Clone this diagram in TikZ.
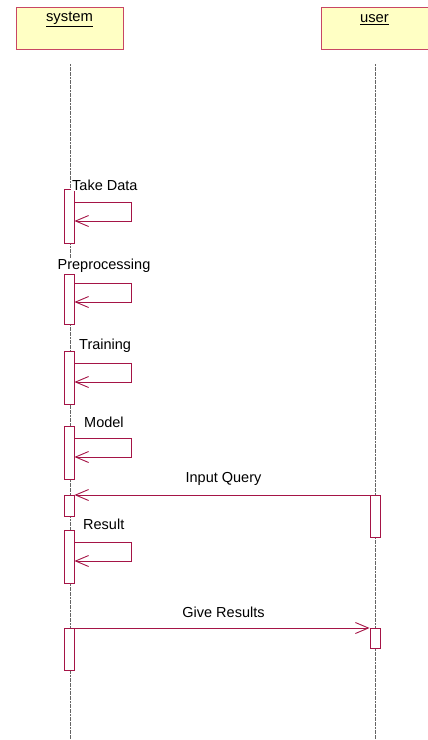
\documentclass[tikz,border=0pt]{standalone}
\usepackage{fontspec}
\setmainfont{Liberation Sans}
\usetikzlibrary{arrows.meta}
\definecolor{boxfill}{RGB}{255,255,196}
\definecolor{boxline}{RGB}{200,70,100}
\definecolor{msgcol}{RGB}{165,20,70}
\definecolor{lifecol}{RGB}{100,100,100}
\begin{document}
\begin{tikzpicture}[x=1pt,y=-1pt,
  objbox/.style={draw=boxline,fill=boxfill,line width=0.9pt,minimum width=107pt,minimum height=42pt,inner sep=0pt},
  objtext/.style={font=\fontsize{14.8}{17}\selectfont,inner sep=0pt},
  lifeline/.style={draw=lifecol,line width=0.75pt,dash pattern=on 2pt off 0.6pt},
  act/.style={draw=msgcol,fill=white,line width=0.9pt,minimum width=10pt,inner sep=0pt,anchor=north},
  msg/.style={draw=msgcol,line width=0.9pt,-{Straight Barb[length=13pt,width=11pt,line width=0.9pt]}},
  lbl/.style={font=\fontsize{14.5}{17}\selectfont,inner sep=1pt,fill=white}]
\useasboundingbox (0,0) rectangle (428,740);
% objects
\node[objbox] (sys) at (69.5,28) {};
\node[objbox] (usr) at (374.5,28) {};
\node[objtext] (systxt) at (69.5,19.5) {\underline{system}};
\node[objtext] (usrtxt) at (374.5,19.5) {\underline{user}};
% lifelines
\coordinate (sysTop) at (70,64);
\coordinate (sysBot) at (70,740);
\coordinate (usrTop) at (375,64);
\coordinate (usrBot) at (375,740);
\draw[lifeline] (sysTop) -- (sysBot);
\draw[lifeline] (usrTop) -- (usrBot);
% activation bars on system
\node[act,minimum height=54pt] (a1) at (69,189) {};
\node[act,minimum height=50pt] (a2) at (69,274) {};
\node[act,minimum height=53pt] (a3) at (69,351) {};
\node[act,minimum height=53pt] (a4) at (69,426) {};
\node[act,minimum height=21pt] (a5) at (69,495) {};
\node[act,minimum height=53pt] (a6) at (69,530) {};
\node[act,minimum height=42pt] (a7) at (69,628) {};
% activation bars on user
\node[act,minimum height=42pt] (u1) at (375,495) {};
\node[act,minimum height=20pt] (u2) at (375,628) {};
% self messages
\coordinate (s1a) at (131,202); \coordinate (s1b) at (131,221);
\coordinate (s2a) at (131,283); \coordinate (s2b) at (131,302);
\coordinate (s3a) at (131,363); \coordinate (s3b) at (131,382);
\coordinate (s4a) at (131,438); \coordinate (s4b) at (131,457);
\coordinate (s6a) at (131,542); \coordinate (s6b) at (131,561);
\draw[msg] (a1.east |- s1a) -- (s1a) -- (s1b) -- (a1.east |- s1b);
\draw[msg] (a2.east |- s2a) -- (s2a) -- (s2b) -- (a2.east |- s2b);
\draw[msg] (a3.east |- s3a) -- (s3a) -- (s3b) -- (a3.east |- s3b);
\draw[msg] (a4.east |- s4a) -- (s4a) -- (s4b) -- (a4.east |- s4b);
\draw[msg] (a6.east |- s6a) -- (s6a) -- (s6b) -- (a6.east |- s6b);
% labels
\node[lbl,anchor=west] (l1) at (71,185) {Take Data};
\node[lbl] (l2) at (104,266) {Preprocessing};
\node[lbl,anchor=west] (l3) at (78,346) {Training};
\node[lbl,anchor=west] (l4) at (83,422) {Model};
\node[lbl,anchor=west] (l6) at (82,524) {Result};
% messages between lifelines
\draw[msg] (u1.north west) -- (a5.north east |- u1.north west);
\node[lbl] (lq) at (223.5,479) {Input Query};
\draw[msg] (a7.north east) -- (u2.north west);
\node[lbl] (lr) at (223.5,612) {Give Results};
\end{tikzpicture}
\end{document}
